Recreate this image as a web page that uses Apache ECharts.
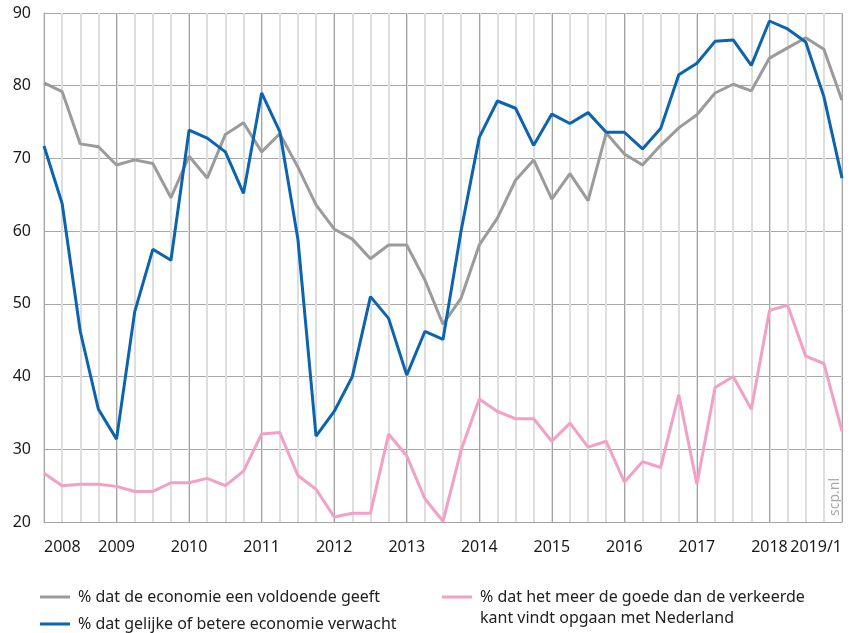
<!DOCTYPE html>
<html>
<head>
<meta charset="utf-8">
<script src="https://cdn.jsdelivr.net/npm/echarts@6/dist/echarts.min.js"></script>
<style>
html, body { margin: 0; padding: 0; background: #fff; }
#chart { width: 855px; height: 633px; }
</style>
</head>
<body>
<div id="chart"></div>
<script>
// kwartalen 2008/1 t/m 2019/1
var quarters = [
    '2008/1','2008/2','2008/3','2008/4',
    '2009/1','2009/2','2009/3','2009/4',
    '2010/1','2010/2','2010/3','2010/4',
    '2011/1','2011/2','2011/3','2011/4',
    '2012/1','2012/2','2012/3','2012/4',
    '2013/1','2013/2','2013/3','2013/4',
    '2014/1','2014/2','2014/3','2014/4',
    '2015/1','2015/2','2015/3','2015/4',
    '2016/1','2016/2','2016/3','2016/4',
    '2017/1','2017/2','2017/3','2017/4',
    '2018/1','2018/2','2018/3','2018/4',
    '2019/1'
];

var voldoende = [
    80.4, 79.2, 72.0, 71.6, 69.1, 69.8, 69.3, 64.6,
    70.3, 67.3, 73.3, 74.9, 70.9, 73.4, 68.8, 63.6,
    60.3, 58.9, 56.2, 58.1, 58.1, 53.3, 47.2, 50.8,
    58.1, 61.8, 67.0, 69.8, 64.4, 67.9, 64.2, 73.5,
    70.6, 69.1, 71.8, 74.2, 76.0, 79.0, 80.2, 79.3,
    83.8, 85.2, 86.6, 85.0, 78.0
];

var verwacht = [
    71.7, 63.8, 46.2, 35.5, 31.4, 48.9, 57.5, 56.0,
    73.9, 72.8, 70.9, 65.2, 79.0, 73.7, 58.9, 31.8,
    35.2, 40.0, 51.0, 48.0, 40.2, 46.2, 45.1, 60.1,
    72.9, 77.9, 76.9, 71.8, 76.1, 74.8, 76.3, 73.6,
    73.6, 71.3, 74.1, 81.5, 83.1, 86.1, 86.3, 82.8,
    88.9, 87.8, 86.0, 78.5, 67.3
];

var goedeKant = [
    26.7, 25.0, 25.2, 25.2, 24.9, 24.2, 24.2, 25.4,
    25.4, 26.0, 25.0, 27.0, 32.1, 32.3, 26.4, 24.5,
    20.7, 21.2, 21.2, 32.1, 29.1, 23.2, 20.1, 29.9,
    36.9, 35.2, 34.2, 34.2, 31.1, 33.6, 30.3, 31.1,
    25.5, 28.3, 27.5, 37.5, 25.2, 38.5, 40.0, 35.5,
    49.1, 49.8, 42.8, 41.8, 32.5
];

var seriesNames = [
    '% dat de economie een voldoende geeft',
    '% dat gelijke of betere economie verwacht',
    '% dat het meer de goede dan de verkeerde kant vindt opgaan met Nederland'
];
var pinkLine1 = '% dat het meer de goede dan de verkeerde';
var pinkLine2 = 'kant vindt opgaan met Nederland';

var colors = ['#9b9b9b', '#0b64ad', '#f2a0c6'];
var fontFam = '"Noto Sans", sans-serif';

var myChart = echarts.init(document.getElementById('chart'));

var option = {
    animation: false,
    textStyle: { fontFamily: fontFam },
    grid: {
        left: 44,
        right: 13,
        top: 13,
        bottom: 111
    },
    legend: [
        {
            data: [seriesNames[0], seriesNames[1]],
            orient: 'vertical',
            left: 40,
            top: 589,
            padding: 0,
            itemGap: 11,
            itemWidth: 30,
            itemHeight: 3,
            icon: 'rect',
            selectedMode: false,
            textStyle: { fontSize: 16, color: '#222', fontFamily: fontFam, padding: [0, 0, 0, 3] }
        },
        {
            data: [seriesNames[2]],
            orient: 'vertical',
            left: 442,
            top: 589,
            padding: 0,
            itemWidth: 30,
            itemHeight: 3,
            icon: 'rect',
            selectedMode: false,
            formatter: function () { return pinkLine1; },
            textStyle: { fontSize: 16, color: '#222', fontFamily: fontFam, padding: [0, 0, 0, 3] }
        }
    ],
    graphic: [
        {
            type: 'text',
            left: 480,
            top: 610,
            style: {
                text: pinkLine2,
                fontSize: 16,
                fontFamily: fontFam,
                fill: '#222'
            }
        },
        {
            type: 'text',
            x: 828,
            y: 516,
            rotation: Math.PI / 2,
            style: {
                text: 'scp.nl',
                fontSize: 14,
                fontFamily: fontFam,
                fill: '#a8a8a8'
            }
        }
    ],
    xAxis: [
        {
            type: 'category',
            data: quarters,
            boundaryGap: false,
            axisLine: { lineStyle: { color: '#a3a3a3', width: 1 } },
            axisTick: { show: false },
            axisLabel: {
                interval: function (i) { return i % 4 === 0; },
                formatter: function (v) {
                    return v === '2019/1' ? v : v.slice(0, 4);
                },
                margin: 17,
                fontSize: 16,
                color: '#1a1a1a',
                alignMinLabel: 'left',
                alignMaxLabel: 'right'
            },
            splitLine: {
                show: true,
                interval: 0,
                lineStyle: { color: '#dedede', width: 2 }
            }
        },
        {
            type: 'category',
            data: quarters,
            boundaryGap: false,
            position: 'bottom',
            axisLine: { show: false },
            axisTick: { show: false },
            axisLabel: { show: false },
            splitLine: {
                show: true,
                interval: function (i) { return i % 4 === 0; },
                lineStyle: { color: '#a3a3a3', width: 1 }
            }
        }
    ],
    yAxis: {
        type: 'value',
        min: 20,
        max: 90,
        interval: 10,
        axisLine: { show: true, lineStyle: { color: '#a3a3a3' } },
        axisTick: { show: false },
        axisLabel: {
            margin: 13,
            fontSize: 16,
            color: '#1a1a1a'
        },
        splitLine: { lineStyle: { color: '#a8a8a8', width: 1 } }
    },
    series: [
        {
            name: seriesNames[0],
            type: 'line',
            data: voldoende,
            symbol: 'none',
            color: colors[0],
            lineStyle: { width: 3, color: colors[0] }
        },
        {
            name: seriesNames[1],
            type: 'line',
            data: verwacht,
            symbol: 'none',
            color: colors[1],
            lineStyle: { width: 3, color: colors[1] }
        },
        {
            name: seriesNames[2],
            type: 'line',
            data: goedeKant,
            symbol: 'none',
            color: colors[2],
            lineStyle: { width: 3, color: colors[2] }
        }
    ]
};

myChart.setOption(option, true);
</script>
</body>
</html>
